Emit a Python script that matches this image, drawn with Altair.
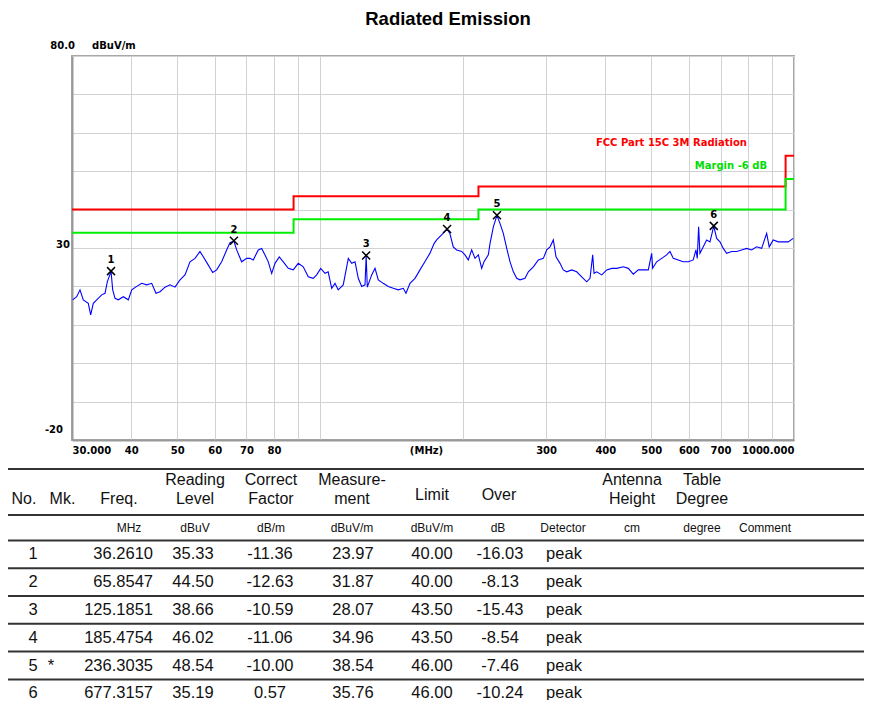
import altair as alt
import pandas as pd

# ---------------- data ----------------
trace_freq = [30.1, 30.69, 31.19, 31.69, 32.47, 32.85, 33.27, 33.82, 34.66, 35.22,
              35.61, 36.26, 36.56, 36.97, 37.57, 38.49, 39.44, 40.10, 41.08, 42.09,
              43.12, 44.18, 45.11, 46.0, 47.13, 48.29, 49.47, 50.69, 51.93, 53.21,
              54.52, 55.85, 56.76, 57.87, 59.41, 60.57, 62.06, 63.58, 64.61, 65.85,
              66.75, 68.39, 70.07, 71.2, 72.35, 74.13, 75.37, 76.59, 77.83, 79.12,
              80.40, 82.10, 83.71, 85.76, 87.87, 90.03, 92.24, 94.50, 96.82, 98.44,
              100.4, 102.5, 104.1, 105.9, 107.6, 109.3, 112.0, 114.8, 116.7, 118.6,
              120.5, 122.5, 124.5, 125.19, 125.9, 128.6, 130.7, 132.8, 136.0, 139.4,
              142.8, 146.3, 149.9, 151.9, 154.9, 158.7, 162.6, 166.5, 170.6, 174.2,
              176.3, 180.6, 185.48, 188.0, 191.1, 194.3, 199.1, 202.3, 205.6, 209.0,
              212.4, 215.9, 219.4, 221.9, 226.6, 228.5, 232.2, 236.3, 239.8, 243.7,
              247.8, 251.8, 255.9, 260.1, 264.3, 270.8, 275.2, 282.0, 288.9, 296.0,
              300.9, 305.8, 310.7, 314.8, 321.0, 326.1, 331.6, 339.7, 348.1, 356.6,
              365.4, 371.3, 376.2, 378.6, 383.6, 393.1, 402.7, 412.6, 422.7, 436.5,
              447.2, 458.2, 469.4, 480.9, 492.8, 501.0, 503.4, 513.3, 525.9, 538.8,
              547.5, 556.4, 570.0, 584.0, 598.4, 613.0, 621.1, 625.1, 629.3, 633.3,
              643.6, 654.3, 664.9, 677.3, 686.9, 698.0, 709.3, 721.1, 738.8, 756.9,
              775.5, 794.6, 814.1, 834.1, 854.6, 875.6, 886.7, 904.1, 926.3, 949.0,
              972.3, 996.2]
trace_level = [16.5, 17.3, 19.1, 16.5, 15.6, 12.6, 15.6, 16.5, 17.8, 18.2,
               21.2, 23.9, 19.1, 16.9, 16.5, 17.3, 16.5, 19.1, 20.0, 20.8,
               20.4, 20.8, 18.2, 18.6, 19.8, 20.4, 19.8, 21.7, 23.0, 26.4,
               27.3, 29.1, 27.7, 26.0, 23.6, 24.3, 26.4, 29.5, 31.4, 31.8,
               29.5, 26.4, 27.3, 27.3, 26.9, 29.5, 29.9, 28.2, 26.4, 23.4,
               26.0, 27.7, 26.4, 24.7, 24.3, 26.0, 25.1, 22.5, 22.1, 23.0,
               24.7, 23.4, 23.8, 19.5, 20.8, 19.1, 20.4, 27.3, 26.0, 26.4,
               22.1, 20.0, 20.4, 28.0, 19.8, 23.0, 24.7, 21.7, 20.8, 20.0,
               19.5, 19.1, 19.5, 18.2, 20.8, 22.1, 24.3, 26.4, 28.6, 31.2,
               32.1, 33.4, 34.9, 33.8, 30.3, 29.5, 29.1, 28.2, 26.9, 29.5,
               27.3, 28.2, 24.7, 26.4, 28.2, 31.2, 35.5, 38.5, 36.4, 33.8,
               29.9, 26.4, 23.8, 22.1, 21.7, 22.1, 23.8, 25.1, 26.9, 27.3,
               29.5, 30.3, 32.1, 27.7, 26.0, 24.3, 23.8, 24.3, 23.8, 22.5,
               21.2, 22.1, 28.2, 23.4, 23.8, 23.0, 24.3, 24.7, 24.7, 25.1,
               24.7, 23.2, 24.3, 24.3, 24.3, 28.6, 24.7, 26.4, 27.3, 28.2,
               29.1, 27.3, 26.9, 26.4, 26.4, 26.9, 29.5, 27.3, 35.5, 28.6,
               30.3, 32.1, 31.6, 35.7, 32.5, 31.6, 29.9, 28.6, 29.1, 29.1,
               29.5, 29.9, 29.5, 30.3, 29.9, 33.8, 30.3, 32.1, 31.6, 31.6,
               31.6, 32.5]
assert len(trace_freq) == len(trace_level)

limit_freq = [30, 88, 88, 216, 216, 960, 960, 1000]
limit_level = [40, 40, 43.5, 43.5, 46, 46, 54, 54]
margin_level = [34, 34, 37.5, 37.5, 40, 40, 48, 48]

x_grid = [30, 40, 50, 60, 70, 80, 90, 100, 200, 300, 400, 500, 600, 700, 800, 900, 1000]
y_grid = [-20, -10, 0, 10, 20, 30, 40, 50, 60, 70, 80]

row_no = ["1", "2", "3", "4", "5", "6"]
row_mk = ["", "", "", "", "*", ""]
row_freq = ["36.2610", "65.8547", "125.1851", "185.4754", "236.3035", "677.3157"]
row_reading = ["35.33", "44.50", "38.66", "46.02", "48.54", "35.19"]
row_correct = ["-11.36", "-12.63", "-10.59", "-11.06", "-10.00", "0.57"]
row_meas = ["23.97", "31.87", "28.07", "34.96", "38.54", "35.76"]
row_limit = ["40.00", "40.00", "43.50", "43.50", "46.00", "46.00"]
row_over = ["-16.03", "-8.13", "-15.43", "-8.54", "-7.46", "-10.24"]
row_detector = ["peak", "peak", "peak", "peak", "peak", "peak"]

# ---------------- frames ----------------
trace_df = pd.DataFrame({"f": trace_freq, "v": trace_level, "i": range(len(trace_freq))})
red_df = pd.DataFrame({"f": limit_freq, "v": limit_level, "i": range(len(limit_freq))})
green_df = pd.DataFrame({"f": limit_freq, "v": margin_level, "i": range(len(limit_freq))})
mk_df = pd.DataFrame({"f": [float(s) for s in row_freq],
                      "v": [float(s) for s in row_meas], "n": row_no})
tbl_df = pd.DataFrame({"row": list(range(1, 7)), "no": row_no, "mk": row_mk,
                       "freq": row_freq, "reading": row_reading, "correct": row_correct,
                       "meas": row_meas, "limit": row_limit, "over": row_over,
                       "det": row_detector})
one = pd.DataFrame({"a": [0]})

PIX = "DejaVu Sans"
SANS = "Liberation Sans"

xscale = alt.Scale(type="log", domain=[30, 1000], nice=False)
yscale = alt.Scale(domain=[-20, 80], nice=False)
xaxis = alt.Axis(values=x_grid,
                 labelExpr="datum.value == 30 ? '30.000' : datum.value == 1000 ? '1000.000' : "
                           "indexof([90, 100, 200, 800, 900], datum.value) >= 0 ? '' : '' + datum.value",
                 labelOverlap=False, ticks=False, grid=True, gridColor="#d2d2d2", gridWidth=1,
                 domainColor="#999999", domainWidth=2,
                 labelFont=PIX, labelFontSize=10, labelFontWeight="bold", labelColor="#000",
                 labelPadding=5,
                 title="(MHz)", titleX=354, titleY=10, titleBaseline="middle", titleFont=PIX,
                 titleFontSize=10, titleFontWeight="bold", titleColor="#000")
yaxis = alt.Axis(values=y_grid, labels=False, ticks=False, title=None, grid=True,
                 gridColor="#d2d2d2", gridWidth=1, domainColor="#999999", domainWidth=2)
X = alt.X("f:Q", scale=xscale, axis=xaxis)
Y = alt.Y("v:Q", scale=yscale, axis=yaxis)

trace = alt.Chart(trace_df).mark_line(color="#0000ff", strokeWidth=1.1, clip=True).encode(
    x=X, y=Y, order="i:Q")
red = alt.Chart(red_df).mark_line(color="#ff0000", strokeWidth=2, clip=True).encode(
    x=X, y=Y, order="i:Q")
green = alt.Chart(green_df).mark_line(color="#00ee00", strokeWidth=2, clip=True).encode(
    x=X, y=Y, order="i:Q")
marks = alt.Chart(mk_df).mark_point(shape="M-1,-1L1,1M-1,1L1,-1", size=64, filled=False,
                                    strokeWidth=1.5, color="black", opacity=1).encode(x=X, y=Y)
nums = alt.Chart(mk_df).mark_text(dy=-11, font=PIX, fontSize=10, fontWeight="bold",
                                  color="black").encode(x=X, y=Y, text="n:N")


def label_at(txt, yv, xpix, dy, align="right"):
    return alt.Chart(one).mark_text(text=txt, align=align, baseline="middle", dy=dy, font=PIX,
                                    fontSize=10, fontWeight="bold", color="black").encode(
        x=alt.value(xpix), y=alt.Y(datum=yv, scale=yscale, axis=yaxis))


ylab80 = label_at("80.0", 80, 3, -10)
yunit = label_at("dBuV/m", 80, 20, -10, align="left")
ylab30 = label_at("30", 30, -2, -3)
ylabm20 = label_at("-20", -20, -9, -10)


def free_text(txt, x, y, size=10, color="black", align="center", font=PIX, weight="bold"):
    return alt.Chart(one).mark_text(text=txt, align=align, baseline="middle", font=font,
                                    fontSize=size, fontWeight=weight, color=color).encode(
        x=alt.value(x), y=alt.value(y))


leg_red = free_text("FCC Part 15C 3M Radiation", 675, 87, color="#ff0000", align="right")
leg_green = free_text("Margin -6 dB", 695, 110, color="#00dd00", align="right")
title = free_text("Radiated Emission", 376, -37, size=18.5, font=SANS)

plot = alt.layer(trace, red, green, marks, nums, ylab80, yunit, ylab30, ylabm20,
                 leg_red, leg_green, title)

# ---------------- table ----------------
row_scale = alt.Scale(domain=[1, 6], range=[498.3, 637.3])
RY = alt.Y("row:Q", scale=row_scale, axis=None)


def col(field, x, align="center"):
    return alt.Chart(tbl_df).mark_text(align=align, baseline="middle", font=SANS, fontSize=16.5,
                                       color="#111").encode(
        x=alt.value(x), y=RY, text=f"{field}:N")


sep_df = pd.DataFrame({"row": [0.5, 1.5, 2.5, 3.5, 4.5, 5.5]})
seps = alt.Chart(sep_df).mark_rule(color="#333", strokeWidth=2).encode(
    x=alt.value(-64), x2=alt.value(792), y=RY)


def hline(y):
    return alt.Chart(one).mark_rule(color="#333", strokeWidth=2).encode(
        x=alt.value(-64), x2=alt.value(792), y=alt.value(y))


def head(txt, x, y, size=16):
    return free_text(txt, x, y, size=size, color="#111", font=SANS, weight="normal")


headers = [
    head("No.", -48, 443), head("Mk.", -9.5, 443), head("Freq.", 47, 443),
    head("Reading", 123, 424), head("Level", 123, 443),
    head("Correct", 199, 424), head("Factor", 199, 443),
    head("Measure-", 280, 424), head("ment", 280, 443),
    head("Limit", 360, 439), head("Over", 427, 439),
    head("Antenna", 560, 424), head("Height", 560, 443),
    head("Table", 630, 424), head("Degree", 630, 443),
    head("MHz", 57, 472, 12), head("dBuV", 123, 472, 12), head("dB/m", 199, 472, 12),
    head("dBuV/m", 280, 472, 12), head("dBuV/m", 360, 472, 12), head("dB", 426, 472, 12),
    head("Detector", 491, 472, 12), head("cm", 560, 472, 12), head("degree", 630, 472, 12),
    head("Comment", 693, 472, 12),
]

cols = [col("no", -39), col("mk", -21), col("freq", 81, align="right"),
        col("reading", 121), col("correct", 198), col("meas", 281), col("limit", 360),
        col("over", 428), col("det", 492)]

table = alt.layer(hline(413), hline(459), seps, *headers, *cols)

chart = alt.layer(plot, table).resolve_scale(y="independent").properties(
    width=722, height=384,
    autosize=alt.AutoSizeParams(type="none"),
    padding={"left": 64, "top": 48, "right": 70, "bottom": 260},
).configure_view(stroke="#a8a8a8", strokeWidth=2)

chart.save("out.html", embed_options={"renderer": "svg", "actions": False})
